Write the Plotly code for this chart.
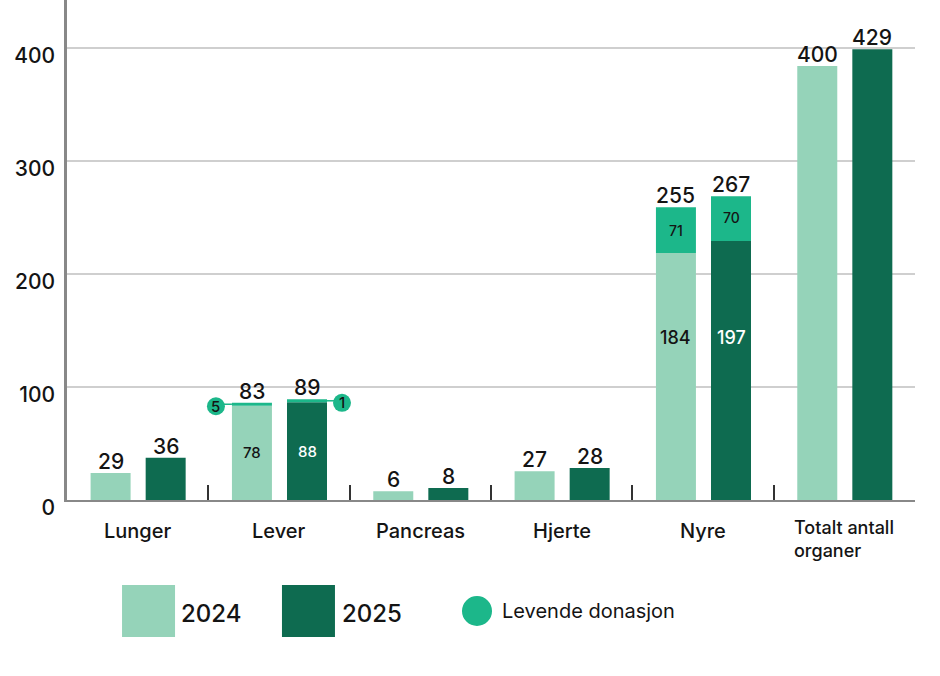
import plotly.graph_objects as go

# ---------------- data ----------------
categories = ["Lunger", "Lever", "Pancreas", "Hjerte", "Nyre", "Totalt antall<br>organer"]

# printed totals
total_2024 = [29, 83, 6, 27, 255, 400]
total_2025 = [36, 89, 8, 28, 267, 429]
# printed split (deceased / living donation)
deceased_2024 = [None, 78, None, None, 184, None]
deceased_2025 = [None, 88, None, None, 197, None]
living_2024 = [None, 5, None, None, 71, None]
living_2025 = [None, 1, None, None, 70, None]

# bar heights as drawn in the picture (axis units)
drawn_main_2024 = [24, 83.5, 7.7, 25.4, 218.6, 384]
drawn_living_2024 = [0, 2.5, 0, 0, 40.4, 0]
drawn_main_2025 = [37.4, 86.5, 10.6, 28.3, 229.2, 399]
drawn_living_2025 = [0, 2.6, 0, 0, 39.6, 0]

y_ticks = [0, 100, 200, 300, 400]

# ---------------- style ----------------
C24 = "#95D3B9"
C25 = "#0E6B50"
CLIV = "#1CB78A"
TXT = "#141414"
FONT = "Inter"


def f(size, color=TXT, weight=500):
    return dict(family=FONT, size=size, color=color, weight=weight)


BW = 0.283
OFF24 = -0.333
OFF25 = 0.0566
idx = list(range(len(categories)))

fig = go.Figure()
fig.add_trace(go.Bar(x=idx, y=drawn_main_2024, width=BW, offset=OFF24,
                     marker=dict(color=C24, line=dict(width=0)), showlegend=False))
fig.add_trace(go.Bar(x=idx, y=drawn_living_2024, base=drawn_main_2024, width=BW, offset=OFF24,
                     marker=dict(color=CLIV, line=dict(width=0)), showlegend=False))
fig.add_trace(go.Bar(x=idx, y=drawn_main_2025, width=BW, offset=OFF25,
                     marker=dict(color=C25, line=dict(width=0)), showlegend=False))
fig.add_trace(go.Bar(x=idx, y=drawn_living_2025, base=drawn_main_2025, width=BW, offset=OFF25,
                     marker=dict(color=CLIV, line=dict(width=0)), showlegend=False))

ann = []
shapes = []
c24 = OFF24 + BW / 2
c25 = OFF25 + BW / 2

# value labels on top
for i in idx:
    top24 = drawn_main_2024[i] + drawn_living_2024[i]
    top25 = drawn_main_2025[i] + drawn_living_2025[i]
    ann.append(dict(x=i + c24, y=top24, text=str(total_2024[i]), showarrow=False,
                    xanchor="center", yanchor="bottom", yshift=-3, font=f(21)))
    ann.append(dict(x=i + c25, y=top25, text=str(total_2025[i]), showarrow=False,
                    xanchor="center", yanchor="bottom", yshift=-3, font=f(21)))

# inside labels
inside_main_y = {1: None, 4: 144}
for i in idx:
    if deceased_2024[i] is not None:
        ym24 = inside_main_y[i] if inside_main_y[i] is not None else drawn_main_2024[i] / 2
        ym25 = inside_main_y[i] if inside_main_y[i] is not None else drawn_main_2025[i] / 2
        fs = 18 if i == 4 else 15
        ann.append(dict(x=i + c24, y=ym24, text=str(deceased_2024[i]), showarrow=False, font=f(fs)))
        ann.append(dict(x=i + c25, y=ym25, text=str(deceased_2025[i]), showarrow=False,
                        font=f(fs, "white")))

# Nyre living labels inside green segment
i = 4
ann.append(dict(x=i + c24, y=drawn_main_2024[i] + drawn_living_2024[i] / 2, text=str(living_2024[i]),
                showarrow=False, font=f(14)))
ann.append(dict(x=i + c25, y=drawn_main_2025[i] + drawn_living_2025[i] / 2, text=str(living_2025[i]),
                yshift=1, showarrow=False, font=f(14)))

# Lever living callouts
i = 1
y24 = drawn_main_2024[i] + drawn_living_2024[i] / 2
y25 = drawn_main_2025[i] + drawn_living_2025[i] / 2
x24 = i + OFF24
x25 = i + OFF25 + BW
shapes.append(dict(type="line", xref="x", yref="y", xsizemode="pixel", xanchor=x24,
                   x0=-15, x1=0, y0=y24, y1=y24, line=dict(color=CLIV, width=1.5)))
shapes.append(dict(type="circle", xref="x", yref="y", xsizemode="pixel", ysizemode="pixel",
                   xanchor=x24, yanchor=y24, x0=-25, x1=-7, y0=-11, y1=7,
                   fillcolor=CLIV, line=dict(width=0)))
ann.append(dict(x=x24, y=y24, xshift=-16, yshift=-2, text=str(living_2024[i]), showarrow=False,
                font=f(15)))
shapes.append(dict(type="line", xref="x", yref="y", xsizemode="pixel", xanchor=x25,
                   x0=0, x1=15, y0=y25, y1=y25, line=dict(color=CLIV, width=1.5)))
shapes.append(dict(type="circle", xref="x", yref="y", xsizemode="pixel", ysizemode="pixel",
                   xanchor=x25, yanchor=y25, x0=6, x1=24, y0=-11, y1=7,
                   fillcolor=CLIV, line=dict(width=0)))
ann.append(dict(x=x25, y=y25, xshift=15, yshift=-2, text=str(living_2025[i]), showarrow=False,
                font=f(15)))

# category labels
for i, c in enumerate(categories):
    multi = "<br>" in c
    ann.append(dict(x=i, xref="x", y=-0.077 if multi else -0.062, yref="paper", text=c,
                    showarrow=False, xanchor="center", yanchor="middle",
                    align="left", font=f(18 if multi else 20)))

# legend
shapes.append(dict(type="rect", xref="paper", yref="paper", x0=0.0649, x1=0.1274, y0=-0.274, y1=-0.17,
                   fillcolor=C24, line=dict(width=0)))
shapes.append(dict(type="rect", xref="paper", yref="paper", x0=0.2535, x1=0.316, y0=-0.274, y1=-0.17,
                   fillcolor=C25, line=dict(width=0)))
shapes.append(dict(type="circle", xref="paper", yref="paper", x0=0.4658, x1=0.5012, y0=-0.252, y1=-0.192,
                   fillcolor=CLIV, line=dict(width=0)))
ann.append(dict(x=0.1320, y=-0.226, xref="paper", yref="paper", text="2024", showarrow=False,
                xanchor="left", yanchor="middle", font=f(24)))
ann.append(dict(x=0.3220, y=-0.226, xref="paper", yref="paper", text="2025", showarrow=False,
                xanchor="left", yanchor="middle", font=f(24)))
ann.append(dict(x=0.5106, y=-0.222, xref="paper", yref="paper", text="Levende donasjon", showarrow=False,
                xanchor="left", yanchor="middle", font=f(20, weight=400)))

fig.update_layout(
    width=940, height=676,
    margin=dict(l=67, r=25, t=0, b=176, autoexpand=False),
    paper_bgcolor="white", plot_bgcolor="white",
    barmode="overlay",
    annotations=ann, shapes=shapes,
    font=dict(family=FONT, color=TXT),
    xaxis=dict(range=[-0.5, 5.5], tickmode="array", tickvals=[0.5, 1.5, 2.5, 3.5, 4.5, 5.5],
               ticks="inside", ticklen=15, tickwidth=1.5, tickcolor="#333",
               showticklabels=False, showgrid=False, zeroline=False, automargin=False,
               showline=True, linecolor="#888", linewidth=2, fixedrange=True),
    yaxis=dict(range=[0, 442.5], tickmode="array", tickvals=y_ticks,
               ticks="", showgrid=True, gridcolor="#cfcfcf", gridwidth=1.5,
               zeroline=False, showline=True, linecolor="#888", linewidth=2.5, automargin=False,
               ticklabelshift=8, ticklabelstandoff=5,
               tickfont=f(21), fixedrange=True),
)

fig.write_html("out.html", config={"displayModeBar": False},
               post_script="document.body.style.margin='0px';document.body.style.padding='0px';")
